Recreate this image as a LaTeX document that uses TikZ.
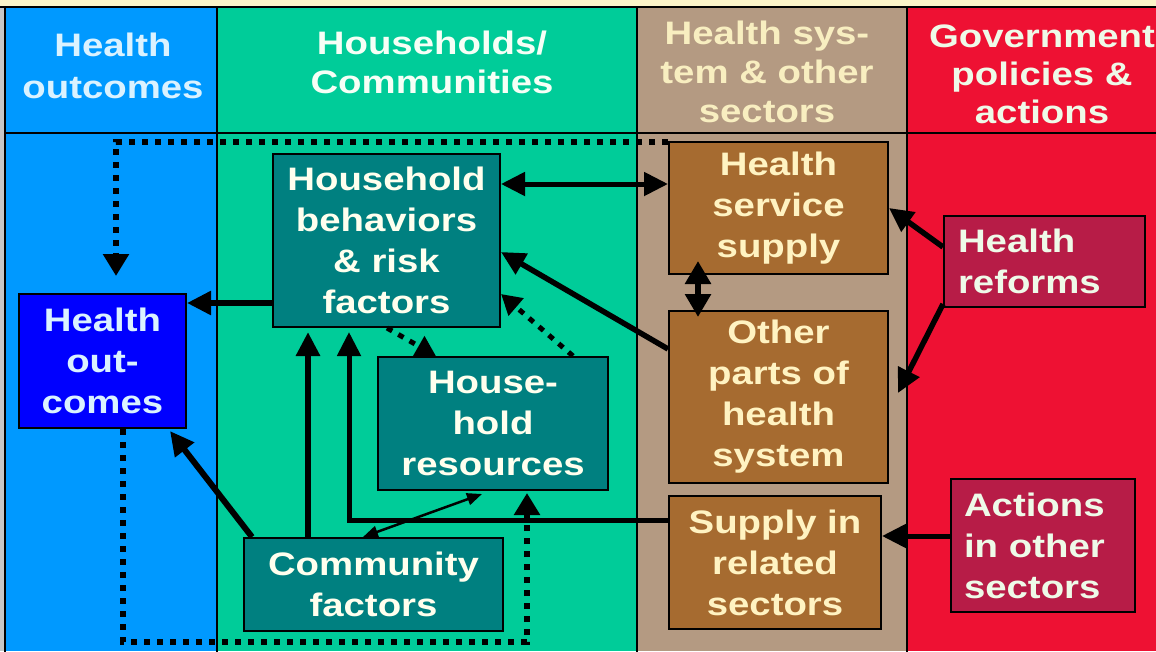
\documentclass[tikz,border=0pt]{standalone}
\usepackage{fontspec}
\setmainfont{Liberation Sans}[FakeStretch=1.18]
\usetikzlibrary{arrows.meta,calc}
\definecolor{cBlue}{HTML}{0099FF}
\definecolor{cGreen}{HTML}{00CC99}
\definecolor{cTan}{HTML}{B49A82}
\definecolor{cRed}{HTML}{EE1133}
\definecolor{cTeal}{HTML}{008080}
\definecolor{cHO}{HTML}{0000FF}
\definecolor{cBrown}{HTML}{A66B30}
\definecolor{cMaroon}{HTML}{B71C47}
\definecolor{cCream}{HTML}{FBF4C9}
\definecolor{tBlue}{HTML}{DAF2FF}
\definecolor{tWhite}{HTML}{F6FFF6}
\definecolor{tCream}{HTML}{F8EEC0}
\definecolor{tPale}{HTML}{EEFAE8}
\definecolor{tIvory}{HTML}{FFFFEE}
\definecolor{tYellow}{HTML}{FFF3C2}
\begin{document}
\begin{tikzpicture}[x=1pt,y=-1pt,
  lab/.style={font=\bfseries\fontsize{32.5}{41}\selectfont, align=center},
  box/.style={lab, draw=black, line width=2pt, inner sep=0pt},
  arr/.style={line width=5.5pt, -{Triangle[length=24pt,width=23pt]}},
  darr/.style={line width=5.5pt, {Triangle[length=24pt,width=23pt]}-{Triangle[length=24pt,width=23pt]}},
  dots/.style={line width=6pt, dash pattern=on 6pt off 7pt, -{Triangle[length=22pt,width=25pt]}},
]
\useasboundingbox (0,0) rectangle (1156,651);
\clip (0,0) rectangle (1156,651);
% backgrounds
\fill[cCream] (0,0) rectangle (1156,7);
\fill[gray!45] (0,7) rectangle (5,651);
\fill[cBlue] (5,7) rectangle (217,651);
\fill[cGreen] (217,7) rectangle (637,651);
\fill[cTan] (637,7) rectangle (907,651);
\fill[cRed] (907,7) rectangle (1160,651);
\draw[line width=2pt] (0,7) -- (1160,7);
\draw[line width=2pt] (5,132.5) -- (1160,132.5);
\foreach \xx in {5,217,637,907} \draw[line width=2pt] (\xx,7) -- (\xx,655);
% headers
\node[lab, text=tBlue, font=\bfseries\fontsize{32.5}{42}\selectfont] (h1) at (113,66) {Health\\outcomes};
\node[lab, text=tWhite, font=\bfseries\fontsize{32.5}{39}\selectfont] (h2) at (432,62) {Households/\\Communities};
\node[lab, text=tCream, font=\bfseries\fontsize{32.5}{39}\selectfont] (h3) at (767,72) {Health sys-\\tem \& other\\sectors};
\node[lab, text=tPale, font=\bfseries\fontsize{32.5}{38}\selectfont] (h4) at (1042,74) {Government\\policies \&\\actions};
% boxes
\node[box, fill=cHO, text=tBlue, minimum width=167pt, minimum height=134pt] (HO) at (102.5,361) {Health\\out-\\comes};
\node[box, fill=cTeal, text=tIvory, minimum width=227pt, minimum height=173pt] (HB) at (386.5,240.5) {\raisebox{0pt}[\height][\depth]{}Household\\behaviors\\\& risk\\factors};
\node[box, fill=cTeal, text=tIvory, minimum width=230pt, minimum height=133pt] (HHR) at (493,423.5) {House-\\hold\\resources};
\node[box, fill=cTeal, text=tIvory, minimum width=259pt, minimum height=93pt] (CF) at (373.5,584.5) {Community\\factors};
\node[box, fill=cBrown, text=tYellow, minimum width=219pt, minimum height=132pt] (HSS) at (778.5,208) {Health\\service\\supply};
\node[box, fill=cBrown, text=tYellow, minimum width=219pt, minimum height=172pt] (OP) at (778.5,397) {Other\\parts of\\health\\system};
\node[box, fill=cBrown, text=tYellow, minimum width=212pt, minimum height=133pt] (SRS) at (775,562.5) {Supply in\\related\\sectors};
\node[box, fill=cMaroon, text=tPale, align=left, inner xsep=14pt, text width=173pt, minimum height=91pt] (HR) at (1044.5,261.5) {Health\\reforms};
\node[box, fill=cMaroon, text=tPale, align=left, inner xsep=13pt, text width=158pt, minimum height=133pt] (AOS) at (1043,545.5) {Actions\\in other\\sectors};
% connectors
\draw[arr] ([yshift=25pt]HB.south west) coordinate (t1) -- (t1 -| HO.east);
\draw[arr, line width=6.5pt, shorten >=4pt] ([xshift=65pt]CF.north west) coordinate (t2) -- (t2 |- HB.south);
\draw[arr, line width=5pt, shorten >=4pt] ([yshift=-25pt]SRS.north west) -| ([xshift=77pt]HB.south west);
\draw[line width=2.5pt, {Triangle[length=15pt,width=12pt]}-{Triangle[length=15pt,width=12pt]}] ([xshift=120pt]CF.north west) -- ([xshift=105pt,yshift=-3pt]HHR.south west);
\draw[dots, line width=5pt, -{Triangle[length=20pt,width=22pt]}] ([xshift=115pt]HB.south west) -- ([xshift=59pt]HHR.north west);
\draw[dots, line width=5pt, -{Triangle[length=20pt,width=22pt]}] ([xshift=-36pt]HHR.north east) -- ([yshift=34pt]HB.south east);
\coordinate (dbot) at (300,642);
\draw[dots] ([xshift=105pt]HO.south west) |- (dbot) -| ([xshift=150pt,yshift=-2pt]HHR.south west);
\draw[dots] ([yshift=-1pt]HSS.north west) -| ([xshift=98pt,yshift=17pt]HO.north west);
\draw[arr, line width=6pt] ([xshift=9pt]CF.north west) -- ([xshift=-17pt,yshift=-2pt]HO.south east);
\draw[darr, line width=5pt] ([yshift=-31pt]HB.north east) coordinate (t10) -- (t10 -| HSS.west);
\draw[darr, line width=6pt, {Triangle[length=23pt,width=25pt]}-{Triangle[length=23pt,width=25pt]}, shorten <=-14pt, shorten >=-7pt] ([xshift=30pt]HSS.south west) coordinate (t11) -- (t11 |- OP.north);
\draw[arr] ([yshift=-39pt]OP.north west) -- ([yshift=-99pt]HB.north east);
\draw[arr] ([yshift=-32pt]HR.north west) -- ([yshift=-67pt]HSS.north east);
\draw[arr] ([yshift=4pt]HR.south west) -- ([xshift=9pt,yshift=-83pt]OP.north east);
\draw[arr, line width=5pt] ([yshift=-58pt]AOS.north west) coordinate (t15) -- (t15 -| SRS.east);
\end{tikzpicture}
\end{document}
